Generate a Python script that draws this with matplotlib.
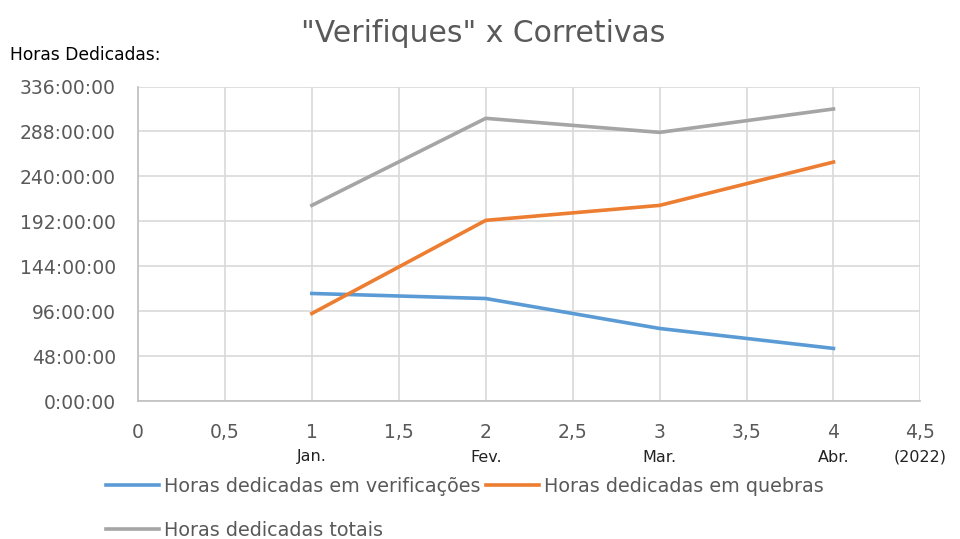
import matplotlib.pyplot as plt
from matplotlib.ticker import FuncFormatter, MultipleLocator
from matplotlib.transforms import blended_transform_factory

# dados (horas)
meses = [1, 2, 3, 4]
verificacoes = [114.9, 109.5, 77.5, 56.2]
quebras = [93.5, 193.0, 209.0, 255.3]
totais = [209.0, 302.0, 287.0, 312.0]

rotulo_pos = [1, 2, 3, 4, 4.5]
rotulo_txt = ["Jan.", "Fev.", "Mar.", "Abr.", "(2022)"]

cinza = "#595959"

fig = plt.figure(figsize=(9.6, 5.39), dpi=100)
ax = fig.add_axes([0.14375, 0.256, 0.815, 0.5835])

l1, = ax.plot(meses, verificacoes, color="#5b9bd5", lw=2.6, label="Horas dedicadas em verificações")
l2, = ax.plot(meses, quebras, color="#ed7d31", lw=2.6, label="Horas dedicadas em quebras")
l3, = ax.plot(meses, totais, color="#a5a5a5", lw=2.6, label="Horas dedicadas totais")

ax.set_xlim(0, 4.5)
ax.set_ylim(0, 336)
ax.xaxis.set_major_locator(MultipleLocator(0.5))
ax.yaxis.set_major_locator(MultipleLocator(48))
ax.xaxis.set_major_formatter(FuncFormatter(lambda v, p: ("%g" % v).replace(".", ",")))
ax.yaxis.set_major_formatter(FuncFormatter(lambda v, p: "%d:00:00" % int(round(v))))

ax.grid(True, color="#d9d9d9", lw=1.2)
ax.set_axisbelow(True)
for s in ["top", "right"]:
    ax.spines[s].set_visible(False)
for s in ["left", "bottom"]:
    ax.spines[s].set_color("#bfbfbf")
    ax.spines[s].set_linewidth(1.2)

ax.tick_params(axis="y", length=0, pad=16, labelsize=13.5, labelcolor=cinza)
ax.tick_params(axis="x", length=0, pad=16, labelsize=13.5, labelcolor=cinza)

trans = blended_transform_factory(ax.transData, fig.transFigure)
for x, t in zip(rotulo_pos, rotulo_txt):
    ax.text(x, 1 - 457 / 539, t, transform=trans, ha="center", va="center",
            fontsize=11.5, color="#222222")

fig.text(0.503, 1 - 33 / 539, '"Verifiques" x Corretivas', ha="center", va="center",
         fontsize=21.5, color=cinza)
fig.text(10 / 960, 1 - 55 / 539, "Horas Dedicadas:", ha="left", va="center",
         fontsize=12.3, color="black")

# ordem para preencher linha a linha com ncol=2
fig.legend([l1, l3, l2], [l1.get_label(), l3.get_label(), l2.get_label()],
           loc="lower left", bbox_to_anchor=(100 / 960, -0.012), ncol=2, frameon=False,
           fontsize=13.8, handlelength=2.8, handletextpad=0.25, columnspacing=0.25,
           labelspacing=1.3, labelcolor=cinza, borderaxespad=0.0, borderpad=0.3)

fig.savefig("out.png", dpi=100)
